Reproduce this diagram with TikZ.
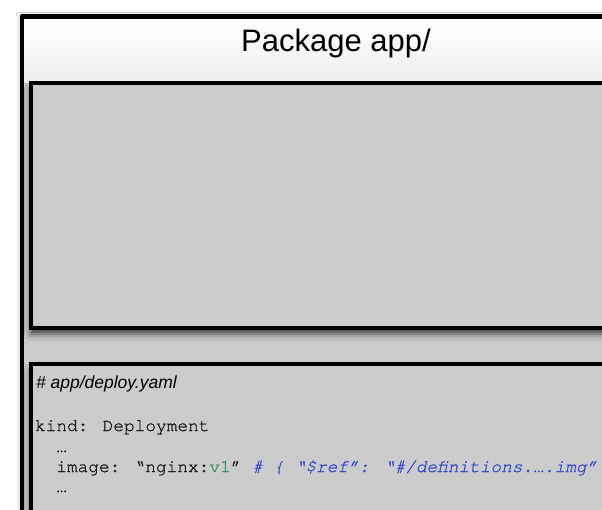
\documentclass[tikz,border=0pt]{standalone}
\usepackage{fontspec}
\setmainfont{Liberation Sans}
\newfontfamily\codefont[FakeBold=0.7, ItalicFeatures={FakeBold=0.7}]{TeX Gyre Cursor}
\usetikzlibrary{shadows.blur}
\definecolor{boxgray}{HTML}{CCCCCC}
\definecolor{headbot}{HTML}{EEEEEE}
\definecolor{codegreen}{RGB}{45,145,95}
\definecolor{codeblue}{RGB}{45,65,210}
\definecolor{codeblack}{HTML}{111111}
\tikzset{
  frame/.style={draw=black, line width=4.5pt, line join=round},
  innerbox/.style={draw=black, line width=4pt, fill=boxgray,
    blur shadow={shadow xshift=0pt, shadow yshift=-6pt, shadow blur radius=6pt, shadow opacity=70}},
  txt/.style={inner sep=0pt, outer sep=0pt, anchor=base west},
  titletext/.style={inner sep=0pt, anchor=base, font=\fontsize{31}{36}\selectfont},
  commenttext/.style={txt, font=\fontsize{17.5}{21}\selectfont\itshape},
  codetext/.style={txt, text=codeblack, font=\fontsize{17.8}{21}\selectfont\codefont}
}
\begin{document}
\begin{tikzpicture}[x=1pt, y=-1pt]
\useasboundingbox (0,0) rectangle (602,510);
\clip (0,0) rectangle (602,510);
\fill[white] (0,0) rectangle (602,510);
% outer package box
\fill[boxgray, blur shadow={shadow xshift=-2pt, shadow yshift=0pt, shadow blur radius=4pt, shadow opacity=25}] (22,16.5) rectangle (720,620);
\shade[top color=white, bottom color=headbot] (22,16.5) rectangle (720,83);
\draw[frame] (22,620) -- (22,16.5) -- (720,16.5);
\node[titletext] (title) at (336,52) {Package app/};
% inner boxes
\draw[innerbox] (30.5,83) rectangle (720,328);
\draw[innerbox] (30.5,364) rectangle (720,620);
% code text
\node[commenttext] (cmt) at (36,388) {\# app/deploy.yaml};
\node[codetext] (kind) at (35,431) {kind: Deployment};
\node[codetext] (dots1) at (56.3,452) {…};
\node[codetext] (img) at (56.3,472) {image: “nginx:\textcolor{codegreen}{v1}” \textcolor{codeblue}{\itshape\# \{ “\$ref”: “\#/definitions.….img”}};
\node[codetext] (dots2) at (56.3,492) {…};
\end{tikzpicture}
\end{document}
